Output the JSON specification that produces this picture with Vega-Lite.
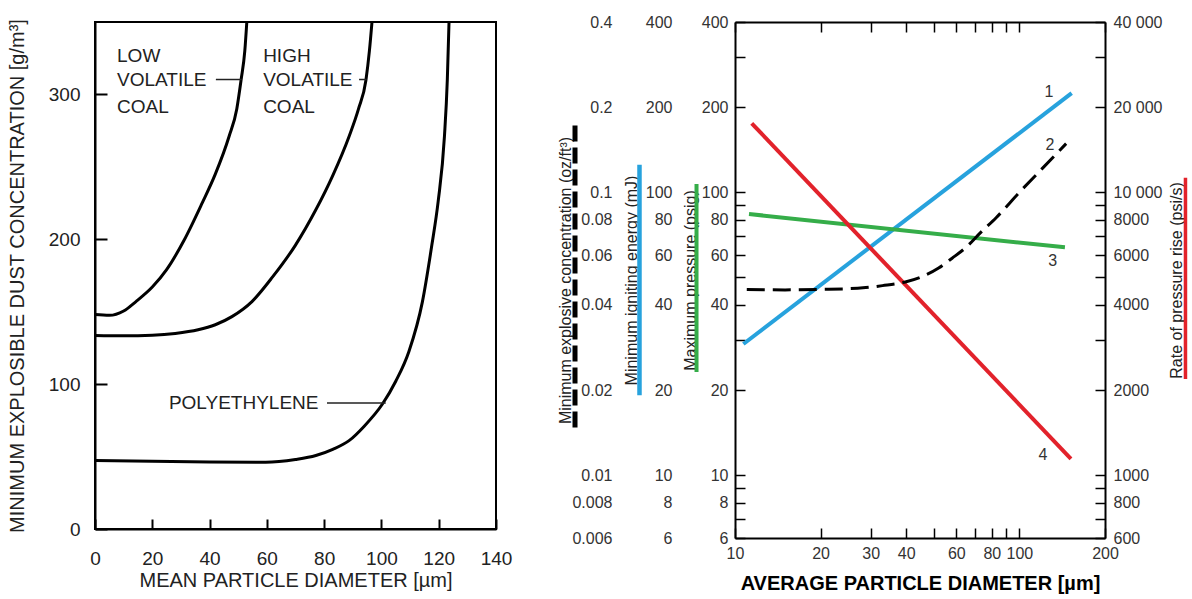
{
  "$schema": "https://vega.github.io/schema/vega-lite/v6.json",
  "background": "white",
  "padding": {"left": 5, "top": 14, "right": 5, "bottom": 5},
  "spacing": 44,
  "config": {
    "view": {"stroke": null},
    "font": "Liberation Sans",
    "axis": {"grid": false, "labelFlush": false, "labelOverlap": false, "domainColor": "black", "tickColor": "black", "labelFont": "Liberation Sans", "titleFont": "Liberation Sans", "titleFontWeight": "normal"}
  },
  "hconcat": [
    {
      "width": 401,
      "height": 507,
      "view": {"stroke": "black", "strokeWidth": 2},
      "layer": [
        {
          "data": {"values": [
            {"c": "low", "x": 0, "y": 148}, {"c": "low", "x": 5, "y": 147.5}, {"c": "low", "x": 10, "y": 150.5}, {"c": "low", "x": 14.3, "y": 157}, {"c": "low", "x": 20, "y": 167}, {"c": "low", "x": 25, "y": 179}, {"c": "low", "x": 31, "y": 199}, {"c": "low", "x": 37.4, "y": 225}, {"c": "low", "x": 42, "y": 245}, {"c": "low", "x": 46.8, "y": 271}, {"c": "low", "x": 49.5, "y": 290}, {"c": "low", "x": 51, "y": 310}, {"c": "low", "x": 52.3, "y": 330}, {"c": "low", "x": 53, "y": 350},
            {"c": "high", "x": 0, "y": 133.6}, {"c": "high", "x": 10, "y": 133.4}, {"c": "high", "x": 20, "y": 133.8}, {"c": "high", "x": 28, "y": 135}, {"c": "high", "x": 36, "y": 137.5}, {"c": "high", "x": 42, "y": 141}, {"c": "high", "x": 47.8, "y": 146.6}, {"c": "high", "x": 54.8, "y": 157}, {"c": "high", "x": 62, "y": 174}, {"c": "high", "x": 70, "y": 196}, {"c": "high", "x": 77, "y": 220}, {"c": "high", "x": 83, "y": 244}, {"c": "high", "x": 88.7, "y": 271}, {"c": "high", "x": 92, "y": 290}, {"c": "high", "x": 94.6, "y": 310}, {"c": "high", "x": 95.8, "y": 330}, {"c": "high", "x": 96.7, "y": 350},
            {"c": "poly", "x": 0, "y": 47.3}, {"c": "poly", "x": 20, "y": 46.8}, {"c": "poly", "x": 40, "y": 46.3}, {"c": "poly", "x": 59.6, "y": 46.1}, {"c": "poly", "x": 70, "y": 48}, {"c": "poly", "x": 77.1, "y": 50.7}, {"c": "poly", "x": 83, "y": 55}, {"c": "poly", "x": 88.7, "y": 61}, {"c": "poly", "x": 94, "y": 71}, {"c": "poly", "x": 100.3, "y": 86.1}, {"c": "poly", "x": 105, "y": 102}, {"c": "poly", "x": 109.6, "y": 122.6}, {"c": "poly", "x": 114.3, "y": 156.8}, {"c": "poly", "x": 117.6, "y": 196}, {"c": "poly", "x": 119.8, "y": 226}, {"c": "poly", "x": 122, "y": 271}, {"c": "poly", "x": 123, "y": 310}, {"c": "poly", "x": 123.6, "y": 350}
          ]},
          "mark": {"type": "line", "interpolate": "monotone", "color": "black", "strokeWidth": 3},
          "encoding": {
            "x": {"field": "x", "type": "quantitative", "scale": {"domain": [0, 140], "nice": false, "zero": false},
              "axis": {"values": [0, 20, 40, 60, 80, 100, 120, 140], "ticks": true, "zindex": 1, "tickSize": -10, "tickWidth": 2, "domainWidth": 2, "labelPadding": 30, "labelFontSize": 19, "labelColor": "#222", "title": "MEAN PARTICLE DIAMETER [µm]", "titleFontSize": 20, "titleColor": "#222", "titleY": 51, "titleBaseline": "middle"}},
            "y": {"field": "y", "type": "quantitative", "scale": {"domain": [0, 350], "nice": false},
              "axis": {"values": [0, 100, 200, 300], "ticks": true, "zindex": 1, "tickSize": -12, "tickWidth": 2, "domainWidth": 2, "labelPadding": 27, "labelFontSize": 19, "labelColor": "#222", "title": "MINIMUM EXPLOSIBLE DUST CONCENTRATION [g/m³]", "titleFontSize": 20, "titleColor": "#222", "titleX": -78, "titleBaseline": "middle"}},
            "detail": {"field": "c"}
          }
        },
        {
          "data": {"values": [
            {"t": "LOW", "x": 7.7, "y": 326.7}, {"t": "VOLATILE", "x": 7.7, "y": 310.3}, {"t": "COAL", "x": 7.7, "y": 291.1},
            {"t": "HIGH", "x": 58.7, "y": 326.7}, {"t": "VOLATILE", "x": 58.7, "y": 310.3}, {"t": "COAL", "x": 58.7, "y": 291.1},
            {"t": "POLYETHYLENE", "x": 25.8, "y": 87}
          ]},
          "mark": {"type": "text", "align": "left", "baseline": "middle", "fontSize": 19, "color": "#222"},
          "encoding": {
            "x": {"field": "x", "type": "quantitative"},
            "y": {"field": "y", "type": "quantitative"},
            "text": {"field": "t"}
          }
        },
        {
          "data": {"values": [
            {"x": 42.2, "x2": 51.2, "y": 310.3}, {"x": 92.2, "x2": 94.8, "y": 310.3}, {"x": 81, "x2": 101.5, "y": 87}
          ]},
          "mark": {"type": "rule", "color": "#222", "strokeWidth": 1.5},
          "encoding": {
            "x": {"field": "x", "type": "quantitative"},
            "x2": {"field": "x2"},
            "y": {"field": "y", "type": "quantitative"}
          }
        }
      ]
    },
    {
      "width": 370,
      "height": 516,
      "resolve": {"axis": {"x": "independent", "y": "independent"}},
      "layer": [
        {
          "data": {"values": [
            {"s": "blue", "x": 10.7, "y": 29.1}, {"s": "blue", "x": 152.7, "y": 224.2},
            {"s": "green", "x": 11.2, "y": 83.8}, {"s": "green", "x": 144.6, "y": 63.9},
            {"s": "red", "x": 11.45, "y": 175.4}, {"s": "red", "x": 151.8, "y": 11.43}
          ]},
          "mark": {"type": "line", "strokeWidth": 4},
          "encoding": {
            "x": {"field": "x", "type": "quantitative", "scale": {"type": "log", "domain": [10, 200], "nice": false},
              "axis": {"orient": "bottom", "values": [10, 20, 30, 40, 50, 60, 70, 80, 90, 100, 200], "labelExpr": "indexof([10,20,30,40,60,80,100,200], datum.value) >= 0 ? format(datum.value, 'd') : ''", "tickSize": -10, "tickWidth": 1.5, "domainWidth": 2, "labelPadding": 17, "labelFontSize": 16, "labelColor": "#333", "title": "AVERAGE PARTICLE DIAMETER [µm]", "titleFontSize": 20, "titleFontWeight": "bold", "titleColor": "black", "titleY": 45, "titleBaseline": "middle"}},
            "y": {"field": "y", "type": "quantitative", "scale": {"type": "log", "domain": [6, 400], "nice": false},
              "axis": {"orient": "left", "values": [6, 7, 8, 9, 10, 20, 30, 40, 50, 60, 70, 80, 90, 100, 200, 300, 400], "labelExpr": "indexof([6,8,10,20,40,60,80,100,200,400], datum.value) >= 0 ? format(datum.value, 'd') : ''", "tickSize": -10, "tickWidth": 1.5, "domainWidth": 2, "labelPadding": 17, "labelFontSize": 16, "labelColor": "#333", "title": "Maximum pressure (psig)", "titleFontSize": 16, "titleColor": "#222", "titleX": -45, "titleBaseline": "middle"}},
            "color": {"field": "s", "type": "nominal", "scale": {"domain": ["black", "blue", "green", "red"], "range": ["black", "#27a2dd", "#35ad49", "#e2222b"]}, "legend": null}
          }
        },
        {
          "data": {"values": [
            {"x": 11, "y": 45.3}, {"x": 15, "y": 45.2}, {"x": 20, "y": 45.4}, {"x": 27, "y": 45.8}, {"x": 33, "y": 46.8}, {"x": 40, "y": 48.3}, {"x": 46, "y": 50.6}, {"x": 52, "y": 54}, {"x": 58, "y": 58.5}, {"x": 65, "y": 64}, {"x": 73, "y": 72}, {"x": 83, "y": 81.5}, {"x": 100, "y": 100}, {"x": 120, "y": 121}, {"x": 146, "y": 148.6}
          ]},
          "mark": {"type": "line", "interpolate": "monotone", "color": "black", "strokeWidth": 3, "strokeDash": [18, 8]},
          "encoding": {
            "x": {"field": "x", "type": "quantitative", "scale": {"type": "log", "domain": [10, 200], "nice": false},
              "axis": {"orient": "top", "values": [10, 20, 30, 40, 50, 60, 70, 80, 90, 100, 200], "labels": false, "tickSize": -10, "tickWidth": 1.5, "domainWidth": 2, "title": null}},
            "y": {"field": "y", "type": "quantitative", "scale": {"type": "log", "domain": [6, 400], "nice": false},
              "axis": {"orient": "right", "values": [6, 7, 8, 9, 10, 20, 30, 40, 50, 60, 70, 80, 90, 100, 200, 300, 400], "labelExpr": "indexof([6,8,10,20,40,60,80,100,200,400], datum.value) >= 0 ? (datum.value >= 100 ? replace(format(datum.value * 100, ','), ',', ' ') : format(datum.value * 100, 'd')) : ''", "tickSize": -10, "tickWidth": 1.5, "domainWidth": 2, "labelPadding": 18, "labelFontSize": 16, "labelColor": "#333", "title": "Rate of pressure rise (psi/s)", "titleFontSize": 16, "titleColor": "#222", "titleAngle": 270, "titleX": 71, "titleBaseline": "middle"}}
          }
        },
        {
          "data": {"values": [
            {"t": "1", "x": 127, "y": 227}, {"t": "2", "x": 128, "y": 147}, {"t": "3", "x": 131, "y": 57}, {"t": "4", "x": 121, "y": 11.8}
          ]},
          "mark": {"type": "text", "fontSize": 16, "color": "#333", "align": "center", "baseline": "middle"},
          "encoding": {
            "x": {"field": "x", "type": "quantitative", "scale": {"type": "log", "domain": [10, 200], "nice": false}, "axis": null},
            "y": {"field": "y", "type": "quantitative", "scale": {"type": "log", "domain": [6, 400], "nice": false},
              "axis": {"orient": "left", "offset": 63, "values": [6, 7, 8, 9, 10, 20, 30, 40, 50, 60, 70, 80, 90, 100, 200, 300, 400], "labelExpr": "indexof([6,8,10,20,40,60,80,100,200,400], datum.value) >= 0 ? format(datum.value, 'd') : ''", "ticks": false, "tickSize": 0, "domain": false, "labelPadding": 0, "labelFontSize": 16, "labelColor": "#333", "title": "Minimum igniting energy (mJ)", "titleFontSize": 16, "titleColor": "#222", "titleX": -41, "titleBaseline": "middle"}},
            "text": {"field": "t"}
          }
        },
        {
          "data": {"values": [
            {"c": "black", "x": 2.738, "y1": 172.2, "y2": 14.53},
            {"c": "blue", "x": 4.615, "y1": 125.1, "y2": 19.19},
            {"c": "green", "x": 7.323, "y1": 107.1, "y2": 23.17},
            {"c": "red", "x": 383.7, "y1": 112.5, "y2": 21.88}
          ]},
          "mark": {"type": "rule"},
          "encoding": {
            "x": {"field": "x", "type": "quantitative", "scale": {"type": "log", "domain": [10, 200], "nice": false}, "axis": null},
            "y": {"field": "y1", "type": "quantitative", "scale": {"type": "log", "domain": [6, 400], "nice": false},
              "axis": {"orient": "left", "offset": 123, "values": [6, 7, 8, 9, 10, 20, 30, 40, 50, 60, 70, 80, 90, 100, 200, 300, 400], "labelExpr": "indexof([6,8,10,20,40,60,80,100,200,400], datum.value) >= 0 ? format(datum.value / 1000, '~g') : ''", "ticks": false, "tickSize": 0, "domain": false, "labelPadding": 0, "labelFontSize": 16, "labelColor": "#333", "title": "Minimum explosive concentration (oz/ft³)", "titleFontSize": 16, "titleColor": "#222", "titleX": -47, "titleBaseline": "middle"}},
            "y2": {"field": "y2"},
            "color": {"field": "c", "type": "nominal", "scale": {"domain": ["black", "blue", "green", "red"], "range": ["black", "#27a2dd", "#35ad49", "#e2222b"]}, "legend": null},
            "strokeDash": {"field": "c", "type": "nominal", "scale": {"domain": ["black", "blue", "green", "red"], "range": [[16, 6], [1, 0], [1, 0], [1, 0]]}, "legend": null},
            "strokeWidth": {"field": "c", "type": "nominal", "scale": {"domain": ["black", "blue", "green", "red"], "range": [5, 3.5, 3.5, 3.5]}, "legend": null}
          }
        }
      ]
    }
  ]
}
